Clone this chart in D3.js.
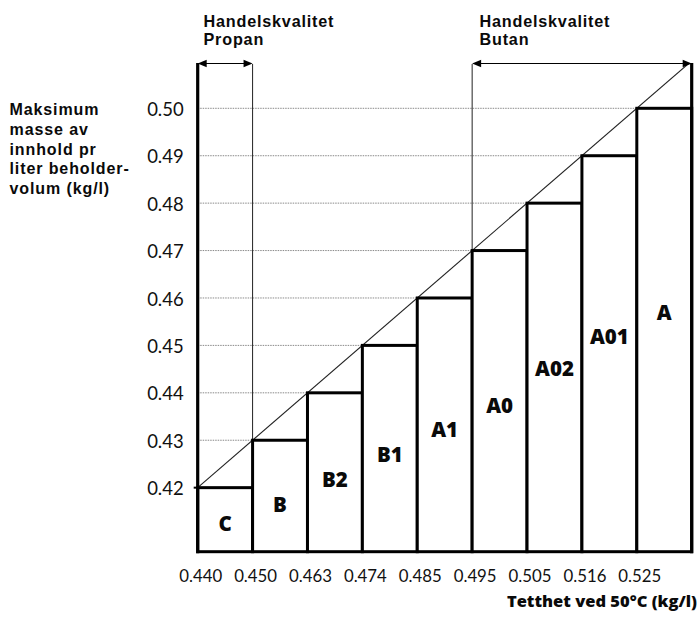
<!DOCTYPE html>
<html>
<head>
<meta charset="utf-8">
<script src="https://cdn.jsdelivr.net/npm/d3@7"></script>
<style>
  html, body { margin: 0; padding: 0; background: #fff; }
  svg { display: block; }
  text { font-family: Lato, "Open Sans", sans-serif; fill: #111; }
  .heavy { font-family: "Open Sans", Lato, sans-serif; font-weight: 800; fill: #0a0a0a; }
  .block { font-family: "Liberation Sans", Arial, sans-serif; font-weight: 700; fill: #0a0a0a; }
</style>
</head>
<body>
<svg id="chart" width="699" height="618"></svg>
<script>
// ---- data ----
const categories = ["C", "B", "B2", "B1", "A1", "A0", "A02", "A01", "A"];
const maxMass = [0.42, 0.43, 0.44, 0.45, 0.46, 0.47, 0.48, 0.49, 0.50];
const labelLevel = [0.4125, 0.4165, 0.4216, 0.4269, 0.4322, 0.4372, 0.4450, 0.4518, 0.4569];
const densityLabels = ["0.440", "0.450", "0.463", "0.474", "0.485", "0.495", "0.505", "0.516", "0.525"];
const yTicks = [0.42, 0.43, 0.44, 0.45, 0.46, 0.47, 0.48, 0.49, 0.50];
const gridTicks = [0.43, 0.44, 0.45, 0.46, 0.47, 0.48, 0.49, 0.50];
const diagonal = [[0, 0.42], [9, 0.51]];
const propanRange = [0, 1];   // edge indices
const butanRange = [5, 9];
const yTitle = ["Maksimum", "masse av", "innhold pr", "liter beholder-", "volum (kg/l)"];
const propanHeader = ["Handelskvalitet", "Propan"];
const butanHeader = ["Handelskvalitet", "Butan"];
const xTitle = "Tetthet ved 50°C (kg/l)";

(function () {
// ---- layout ----
const svg = d3.select("#chart");
const pLeft = 197.7, pRight = 691.7, pBottom = 551.7, pTop = 64;
const xEdge = d3.scaleLinear().domain([0, 9]).range([pLeft, pRight]);
const xBand = d3.scaleBand().domain(categories).range([pLeft, pRight]).padding(0);
const y = d3.scaleLinear().domain([0.50 - (pBottom - 108.3) / 4742, 0.50 + (108.3 - pTop) / 4742]).range([pBottom, pTop]);

// grid lines
svg.append("g").selectAll("line").data(gridTicks).join("line")
  .attr("x1", pLeft).attr("x2", pRight)
  .attr("y1", d => y(d)).attr("y2", d => y(d))
  .attr("stroke", "#8a8a8a").attr("stroke-width", 1).attr("stroke-dasharray", "1.5,1");

// thin boundary lines (propan / butan)
svg.append("g").selectAll("line").data([propanRange[1], butanRange[0]]).join("line")
  .attr("x1", d => xEdge(d)).attr("x2", d => xEdge(d))
  .attr("y1", pTop).attr("y2", pBottom)
  .attr("stroke", "#222").attr("stroke-width", 1);

// diagonal line (clipped to frame)
svg.append("clipPath").attr("id", "frameClip").append("rect")
  .attr("x", pLeft).attr("y", pTop).attr("width", pRight - pLeft).attr("height", pBottom - pTop);
svg.append("path")
  .datum(diagonal)
  .attr("clip-path", "url(#frameClip)")
  .attr("d", d3.line().x(d => xEdge(d[0])).y(d => y(d[1])))
  .attr("fill", "none").attr("stroke", "#222").attr("stroke-width", 1.1);

// bars
svg.append("g").selectAll("rect").data(categories).join("rect")
  .attr("x", d => xBand(d))
  .attr("width", xBand.bandwidth())
  .attr("y", (d, i) => y(maxMass[i]))
  .attr("height", (d, i) => pBottom - y(maxMass[i]))
  .attr("fill", "#fff").attr("stroke", "#000").attr("stroke-width", 3);

// frame sides
svg.append("g").selectAll("line").data([0, 9]).join("line")
  .attr("x1", d => xEdge(d)).attr("x2", d => xEdge(d))
  .attr("y1", pTop - 1).attr("y2", pBottom + 1.5)
  .attr("stroke", "#000").attr("stroke-width", 3.2);

// bar labels
svg.append("g").selectAll("text").data(categories).join("text")
  .attr("class", "heavy")
  .attr("x", d => xBand(d) + xBand.bandwidth() / 2)
  .attr("y", (d, i) => y(labelLevel[i]))
  .attr("dy", "0.36em")
  .attr("text-anchor", "middle")
  .attr("font-size", 20.5)
  .text(d => d);

// double arrows
function arrow(range) {
  const x1 = xEdge(range[0]), x2 = xEdge(range[1]), ay = pTop - 0.5;
  const g = svg.append("g");
  g.append("line").attr("x1", x1 + 2).attr("x2", x2 - 2).attr("y1", ay).attr("y2", ay)
    .attr("stroke", "#000").attr("stroke-width", 1.2);
  g.append("path").attr("d", `M${x1},${ay} l9,-3.8 l0,7.6 z`).attr("fill", "#000");
  g.append("path").attr("d", `M${x2},${ay} l-9,-3.8 l0,7.6 z`).attr("fill", "#000");
}
arrow(propanRange);
arrow(butanRange);

// y axis labels
const yAxis = svg.append("g").attr("transform", `translate(${pLeft - 14},0)`)
  .call(d3.axisLeft(y).tickValues(yTicks).tickSize(0).tickPadding(0).tickFormat(d3.format(".2f")));
yAxis.select(".domain").remove();
yAxis.selectAll("text").attr("font-size", 18.5).attr("font-family", "Lato, sans-serif").attr("fill", "#111").attr("dy", "0.38em");

// small tick at 0.42
svg.append("line").attr("x1", pLeft - 4).attr("x2", pLeft).attr("y1", y(0.42)).attr("y2", y(0.42))
  .attr("stroke", "#000").attr("stroke-width", 2);

// x axis labels
const xAxis = svg.append("g").attr("transform", `translate(2.5,${pBottom})`)
  .call(d3.axisBottom(xEdge).tickValues(d3.range(densityLabels.length)).tickSize(0).tickPadding(0)
    .tickFormat(i => densityLabels[i]));
xAxis.select(".domain").remove();
xAxis.selectAll("text").attr("font-size", 16.8).attr("font-family", "Lato, sans-serif").attr("fill", "#111")
  .attr("dy", null).attr("y", 30);

// multi-line text block
function block(lines, x, y0, lineH, size, spacing) {
  const t = svg.append("text").attr("class", "block").attr("font-size", size)
    .attr("letter-spacing", spacing)
    .attr("x", x).attr("y", y0);
  t.selectAll("tspan").data(lines).join("tspan")
    .attr("x", x).attr("dy", (d, i) => i === 0 ? 0 : lineH)
    .text(d => d);
}

// y title
block(yTitle, 9.5, 115, 19.8, 16, 0.9);
// headers
block(propanHeader, 203.5, 26.7, 18.5, 16.2, 0.8);
block(butanHeader, 479.5, 26.7, 18.5, 16.2, 0.8);

// x title
svg.append("text").attr("class", "heavy").attr("x", 697).attr("y", 607).attr("text-anchor", "end")
  .attr("font-size", 16.5).text(xTitle);
})();
</script>
</body>
</html>
